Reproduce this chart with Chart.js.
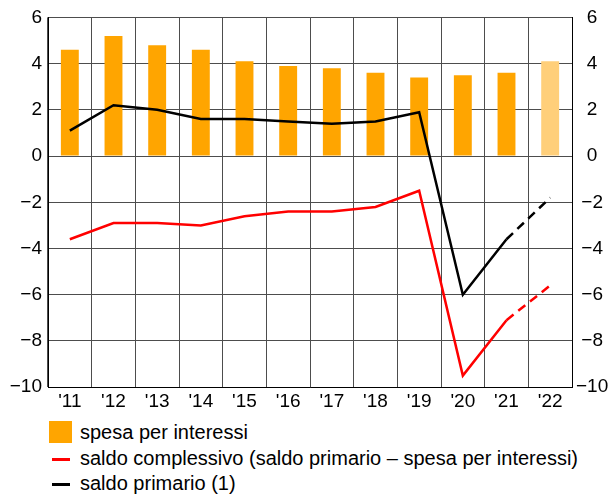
<!DOCTYPE html>
<html>
<head>
<meta charset="utf-8">
<script src="https://cdn.jsdelivr.net/npm/chart.js@4/dist/chart.umd.min.js"></script>
<style>
  html, body { margin: 0; padding: 0; background: #fff; }
  #wrap { position: relative; width: 612px; height: 496px; font-family: "Liberation Sans", Arial, sans-serif; }
  #chartBox { position: absolute; left: 0; top: 0; width: 612px; height: 416px; }
  #legend { position: absolute; left: 49px; top: 420px; font-size: 20px; color: #000; }
  .leg-row { position: relative; height: 25.5px; line-height: 25.5px; padding-left: 31px; white-space: nowrap; }
  .leg-box { position: absolute; left: 0; top: 1px; width: 23px; height: 22px; background: #FFA500; }
  .leg-line { position: absolute; left: 3px; top: 12px; width: 18px; height: 3px; }
</style>
</head>
<body>
<div id="wrap">
  <div id="chartBox"><canvas id="chart"></canvas></div>
  <div id="legend">
    <div class="leg-row"><span class="leg-box"></span>spesa per interessi</div>
    <div class="leg-row"><span class="leg-line" style="background:#FF0000"></span>saldo complessivo (saldo primario – spesa per interessi)</div>
    <div class="leg-row"><span class="leg-line" style="background:#000"></span>saldo primario (1)</div>
  </div>
</div>
<script>
// years and series
var years = ["'11", "'12", "'13", "'14", "'15", "'16", "'17", "'18", "'19", "'20", "'21", "'22"];
var interessi = [4.6, 5.2, 4.8, 4.6, 4.1, 3.9, 3.8, 3.6, 3.4, 3.5, 3.6, 4.1];
var complessivo = [-3.6, -2.9, -2.9, -3.0, -2.6, -2.4, -2.4, -2.2, -1.5, -9.5, -7.1, -5.6];
var primario = [1.1, 2.2, 2.0, 1.6, 1.6, 1.5, 1.4, 1.5, 1.9, -6.0, -3.6, -1.8];
var yTicks = [-10, -8, -6, -4, -2, 0, 2, 4, 6];
var firstForecast = 10; // segments after '21 are forecasts (dashed)

function fmt(v) {
  return v < 0 ? '\u2212' + Math.abs(v) : String(v);
}

Chart.defaults.font.family = '"Liberation Sans", Arial, sans-serif';
Chart.defaults.font.size = 19;
Chart.defaults.color = '#000';

var dashAfter = function (ctx) {
  return ctx.p0DataIndex >= firstForecast ? [9, 6] : undefined;
};

var gridC = '#4d4d4d';
var setTicks = function (axis) {
  axis.ticks = yTicks.map(function (v) { return { value: v }; });
};

new Chart(document.getElementById('chart'), {
  type: 'bar',
  data: {
    labels: years,
    datasets: [{
      type: 'line',
      label: 'saldo primario (1)',
      data: primario,
      borderColor: '#000',
      borderWidth: 2.5,
      pointRadius: 0,
      tension: 0,
      segment: { borderDash: dashAfter },
      yAxisID: 'y',
      order: 1
    }, {
      type: 'line',
      label: 'saldo complessivo',
      data: complessivo,
      borderColor: '#FF0000',
      borderWidth: 2.5,
      pointRadius: 0,
      tension: 0,
      segment: { borderDash: dashAfter },
      yAxisID: 'y',
      order: 2
    }, {
      label: 'spesa per interessi',
      data: interessi,
      backgroundColor: interessi.map(function (v, i) { return i === interessi.length - 1 ? '#FFCF7A' : '#FFA500'; }),
      borderWidth: 0,
      barPercentage: 0.41,
      categoryPercentage: 1,
      yAxisID: 'y',
      order: 3
    }]
  },
  options: {
    responsive: true, maintainAspectRatio: false,
    animation: false,
    layout: { padding: { left: 0, right: 0, top: 9, bottom: 0 } },
    plugins: { legend: { display: false }, tooltip: { enabled: false } },
    scales: {
      x: {
        offset: true,
        grid: { color: gridC, lineWidth: 1, offset: true, drawTicks: false },
        border: { color: '#000', width: 1 },
        ticks: { padding: 3, maxRotation: 0, autoSkip: false }
      },
      y: {
        position: 'left',
        min: -10, max: 6,
        afterBuildTicks: setTicks,
        afterFit: function (axis) { axis.width = 48; },
        grid: { color: gridC, lineWidth: 1, drawTicks: false },
        border: { color: '#000', width: 1 },
        ticks: { padding: 6, callback: fmt }
      },
      y2: {
        position: 'right',
        min: -10, max: 6,
        afterBuildTicks: setTicks,
        afterFit: function (axis) { axis.width = 40; },
        grid: { drawOnChartArea: false, drawTicks: false },
        border: { color: '#000', width: 1 },
        ticks: { padding: 4, crossAlign: 'center', callback: fmt }
      }
    }
  }
});
</script>
</body>
</html>
